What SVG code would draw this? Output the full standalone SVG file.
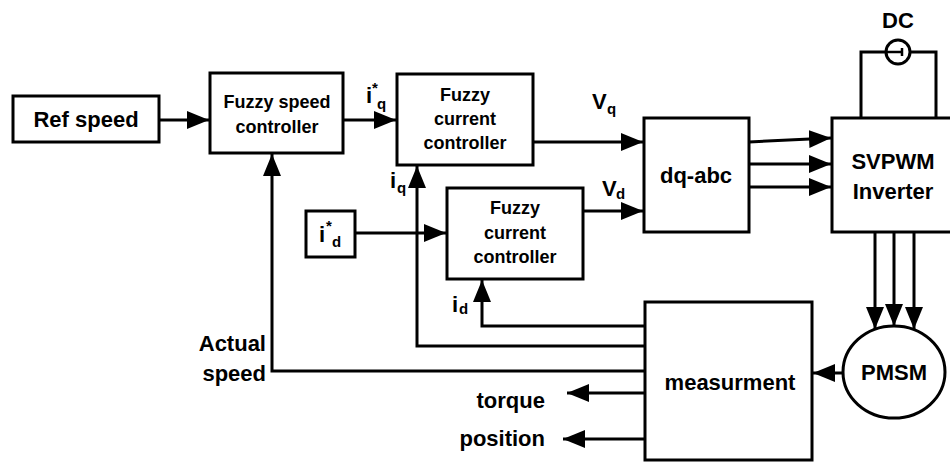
<svg xmlns="http://www.w3.org/2000/svg" width="950" height="464" viewBox="0 0 950 464">
<defs>
<style>
.box{fill:#fff;stroke:#000;stroke-width:3}
.ln{fill:none;stroke:#000;stroke-width:3}
.ar{fill:none;stroke:#000;stroke-width:3;marker-end:url(#ah)}
text{font-family:"Liberation Sans",Arial,sans-serif;font-weight:bold;fill:#000}
.t22{font-size:22px}
.t18{font-size:18px}
.sub{font-size:15px}
.c{text-anchor:middle}
.r{text-anchor:end}
</style>
<marker id="ah" markerUnits="userSpaceOnUse" markerWidth="24" markerHeight="20" refX="22" refY="9" orient="auto">
<path d="M0,0 L22,9 L0,18 z" fill="#000"/>
</marker>
</defs>
<rect width="950" height="464" fill="#fff"/>

<g id="connectors">
<line class="ar" x1="159" y1="120" x2="209" y2="120"/>
<line class="ar" x1="343" y1="120" x2="396" y2="120"/>
<line class="ar" x1="533" y1="142" x2="643" y2="142"/>
<line class="ar" x1="583" y1="211" x2="643" y2="211"/>
<line class="ar" x1="355" y1="233" x2="446" y2="233"/>
<polyline class="ar" points="645,346 417,346 417,166"/>
<polyline class="ar" points="645,326 482,326 482,280"/>
<polyline class="ar" points="645,371 272,371 272,154"/>
<line class="ar" x1="645" y1="393" x2="567" y2="393"/>
<line class="ar" x1="645" y1="439" x2="563" y2="439"/>
<line class="ar" x1="843" y1="373" x2="813" y2="373"/>
<line class="ar" x1="749" y1="142" x2="831" y2="138"/>
<line class="ar" x1="749" y1="164" x2="831" y2="164"/>
<line class="ar" x1="749" y1="187" x2="831" y2="187"/>
<line class="ar" x1="875" y1="232" x2="875" y2="329"/>
<line class="ar" x1="894" y1="232" x2="894" y2="326"/>
<line class="ar" x1="914" y1="232" x2="914" y2="329"/>
<polyline class="ln" points="861,118 861,52 886,52"/>
<polyline class="ln" points="910,52 936,52 936,118"/>
</g>

<g id="ref-speed">
<rect class="box" x="13" y="96" width="146" height="46"/>
<text class="t22 c" x="86" y="127">Ref speed</text>
</g>

<g id="fuzzy-speed-controller">
<rect class="box" x="210" y="73" width="133" height="80"/>
<text class="t18 c" x="277" y="108">Fuzzy speed</text>
<text class="t18 c" x="277" y="133">controller</text>
</g>

<g id="fuzzy-current-controller-q">
<rect class="box" x="397" y="74" width="136" height="91"/>
<text class="t18 c" x="465" y="101">Fuzzy</text>
<text class="t18 c" x="465" y="125">current</text>
<text class="t18 c" x="465" y="149">controller</text>
</g>

<g id="fuzzy-current-controller-d">
<rect class="box" x="447" y="188" width="136" height="91"/>
<text class="t18 c" x="515" y="214">Fuzzy</text>
<text class="t18 c" x="515" y="239">current</text>
<text class="t18 c" x="515" y="263">controller</text>
</g>

<g id="id-ref">
<rect class="box" x="306" y="211" width="49" height="46"/>
<text class="t22" x="319" y="242">i</text>
<text class="sub" x="326" y="231">*</text>
<text class="sub" x="332" y="247">d</text>
</g>

<g id="dq-abc">
<rect class="box" x="644" y="118" width="105" height="114"/>
<text class="t22 c" x="696" y="183">dq-abc</text>
</g>

<g id="svpwm-inverter">
<rect class="box" x="832" y="118" width="130" height="114"/>
<text class="t22 c" x="893" y="169">SVPWM</text>
<text class="t22 c" x="893" y="199">Inverter</text>
</g>

<g id="dc-source">
<circle cx="898" cy="52" r="12" fill="#fff" stroke="#000" stroke-width="3"/>
<line x1="886" y1="52" x2="903" y2="52" stroke="#000" stroke-width="2.5"/>
<line x1="902" y1="48" x2="902" y2="56" stroke="#000" stroke-width="2.5"/>
<text class="t22 c" x="898" y="28">DC</text>
</g>

<g id="pmsm">
<ellipse cx="894" cy="372" rx="51" ry="46" fill="#fff" stroke="#000" stroke-width="3"/>
<text class="t22 c" x="894" y="380">PMSM</text>
</g>

<g id="measurment">
<rect class="box" x="645" y="302" width="167" height="158"/>
<text class="t22 c" x="730" y="390">measurment</text>
</g>

<g id="labels">
<text class="t22" x="366" y="103">i</text>
<text class="sub" x="372" y="93">*</text>
<text class="sub" x="377" y="109">q</text>
<text class="t22" x="390" y="188">i</text>
<text class="sub" x="397" y="193">q</text>
<text class="t22" x="452" y="312">i</text>
<text class="sub" x="459" y="314">d</text>
<text class="t22" x="592" y="109">V</text>
<text class="sub" x="607" y="114">q</text>
<text class="t22" x="602" y="196">V</text>
<text class="sub" x="616" y="199">d</text>
<text class="t22 r" x="266" y="351">Actual</text>
<text class="t22 r" x="266" y="381">speed</text>
<text class="t22 r" x="545" y="408">torque</text>
<text class="t22 r" x="545" y="446">position</text>
</g>
</svg>
